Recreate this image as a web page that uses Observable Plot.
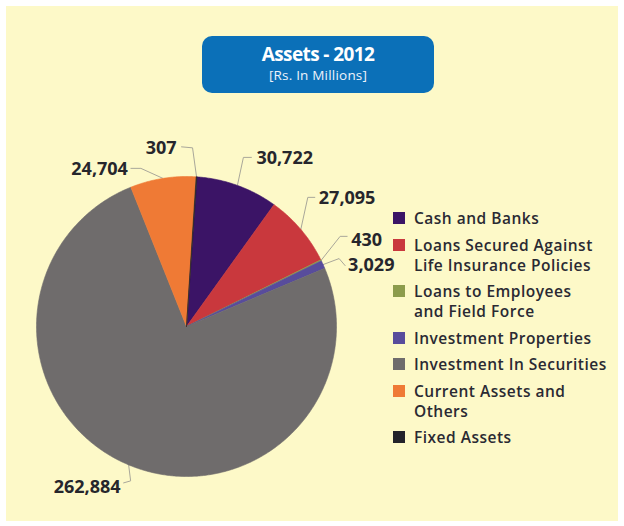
<!DOCTYPE html>
<html>
<head>
<meta charset="utf-8">
<script src="https://cdn.jsdelivr.net/npm/d3@7"></script>
<script src="https://cdn.jsdelivr.net/npm/@observablehq/plot@0.6"></script>
<style>
  html, body { margin: 0; padding: 0; background: #ffffff; }
  #wrap { position: relative; width: 624px; height: 526px; overflow: hidden; font-family: "Open Sans", sans-serif; }
  #panel { position: absolute; left: 6px; top: 6px; width: 612px; height: 515px; background: #fdf9c8; }
  #chart { position: absolute; left: 0; top: 0; }
  #title { position: absolute; left: 202px; top: 36px; width: 232px; height: 57px; border-radius: 10px; background: #0b70b8; color: #fff; text-align: center; box-sizing: border-box; padding-top: 6px; }
  #title .t1 { font-size: 19px; font-weight: 700; letter-spacing: -0.6px; line-height: 24px; }
  #title .t2 { font-size: 13.5px; line-height: 18px; color: #eef3fb; letter-spacing: 0.2px; }
  #legend { position: absolute; left: 393px; top: 208px; color: #2a2a33; }
  .item { display: flex; align-items: flex-start; margin-bottom: 6.5px; }
  .sw { width: 12px; height: 12px; margin-top: 4px; margin-right: 9px; flex: none; }
  .lab { font-size: 15.5px; font-weight: 600; line-height: 20px; letter-spacing: 0.5px; }
</style>
</head>
<body>
<div id="wrap">
  <div id="panel"></div>
  <div id="chart"></div>
  <div id="title"><div class="t1">Assets - 2012</div><div class="t2">[Rs. In Millions]</div></div>
  <div id="legend"></div>
</div>
<script>
// ---- data ----
const categories = [
  "Cash and Banks",
  "Loans Secured Against Life Insurance Policies",
  "Loans to Employees and Field Force",
  "Investment Properties",
  "Investment In Securities",
  "Current Assets and Others",
  "Fixed Assets"
];
const values = [30722, 27095, 430, 3029, 262884, 24704, 307];
const valueLabels = ["30,722", "27,095", "430", "3,029", "262,884", "24,704", "307"];
const legendLines = [
  ["Cash and Banks"],
  ["Loans Secured Against", "Life Insurance Policies"],
  ["Loans to Employees", "and Field Force"],
  ["Investment Properties"],
  ["Investment In Securities"],
  ["Current Assets and", "Others"],
  ["Fixed Assets"]
];
const colors = ["#3b1466", "#c9383d", "#8c9c4c", "#584c9c", "#6f6c6c", "#ef7a35", "#23232a"];

// ---- layout ----
const W = 624, H = 526;
const cx = 186, cy = 326, r = 150;
const startDeg = 4;
// leader line offsets relative to slice edge point: elbow, end, text anchor, side
const leaders = [
  {elbow: [6, -28], end: [14, -28], text: [19, -27], anchor: "start"},
  {elbow: [7, -32], end: [14, -32], text: [18, -31], anchor: "start"},
  {elbow: [19, -24], end: [26, -24], text: [30, -20], anchor: "start"},
  {elbow: [16, -6], end: [22, 1], text: [25, 1], anchor: "start"},
  {elbow: [2, 16], end: [-5, 18], text: [-8, 22], anchor: "end"},
  {elbow: [-22, -10], end: [-32, -10], text: [-35, -9], anchor: "end"},
  {elbow: [-4, -29], end: [-15, -30], text: [-20, -29], anchor: "end"}
];

const data = categories.map((c, i) => ({name: c, value: values[i], label: valueLabels[i], color: colors[i], i}));
const arcs = d3.pie().sort(null).value(d => d.value)
  .startAngle(startDeg * Math.PI / 180)
  .endAngle(startDeg * Math.PI / 180 + 2 * Math.PI)(data);

const pt = (a, rad) => ({x: cx + rad * Math.sin(a), y: cy - rad * Math.cos(a)});

const sliceMarks = arcs.map(a => {
  const pts = [{x: cx, y: cy}];
  const n = Math.max(2, Math.ceil((a.endAngle - a.startAngle) / (Math.PI / 360)));
  for (let k = 0; k <= n; k++) {
    const ang = a.startAngle + (a.endAngle - a.startAngle) * k / n;
    pts.push(pt(ang, r));
  }
  pts.push({x: cx, y: cy});
  return Plot.line(pts, {x: "x", y: "y", fill: a.data.color, stroke: a.data.color, strokeWidth: 0.6, curve: "linear"});
});

const leaderPts = [];
const labelRows = [];
arcs.forEach((a, i) => {
  const mid = (a.startAngle + a.endAngle) / 2;
  const e = pt(mid, r);
  const L = leaders[i];
  leaderPts.push({x: e.x, y: e.y, k: i});
  leaderPts.push({x: e.x + L.elbow[0], y: e.y + L.elbow[1], k: i});
  leaderPts.push({x: e.x + L.end[0], y: e.y + L.end[1], k: i});
  labelRows.push({x: e.x + L.text[0], y: e.y + L.text[1], label: a.data.label, anchor: L.anchor});
});

const textOpts = {x: "x", y: "y", text: "label", lineAnchor: "middle", fontSize: 18, fontWeight: 700, fill: "#26262c", letterSpacing: -0.3};
const chart = Plot.plot({
  width: W, height: H, margin: 0,
  x: {domain: [0, W], range: [0, W], axis: null},
  y: {domain: [0, H], range: [0, H], axis: null},
  style: {background: "transparent", fontFamily: "Open Sans, sans-serif"},
  marks: [
    Plot.line(leaderPts, {x: "x", y: "y", z: "k", stroke: "#a9a79a", strokeWidth: 1}),
    ...sliceMarks,
    Plot.text(labelRows.filter(d => d.anchor === "start"), {...textOpts, textAnchor: "start"}),
    Plot.text(labelRows.filter(d => d.anchor === "end"), {...textOpts, textAnchor: "end"})
  ]
});
document.getElementById("chart").appendChild(chart);

// legend
const leg = document.getElementById("legend");
data.forEach((d, i) => {
  const item = document.createElement("div");
  item.className = "item";
  const sw = document.createElement("div");
  sw.className = "sw";
  sw.style.background = d.color;
  const lab = document.createElement("div");
  lab.className = "lab";
  lab.innerHTML = legendLines[i].join("<br>");
  item.appendChild(sw);
  item.appendChild(lab);
  leg.appendChild(item);
});
</script>
</body>
</html>
